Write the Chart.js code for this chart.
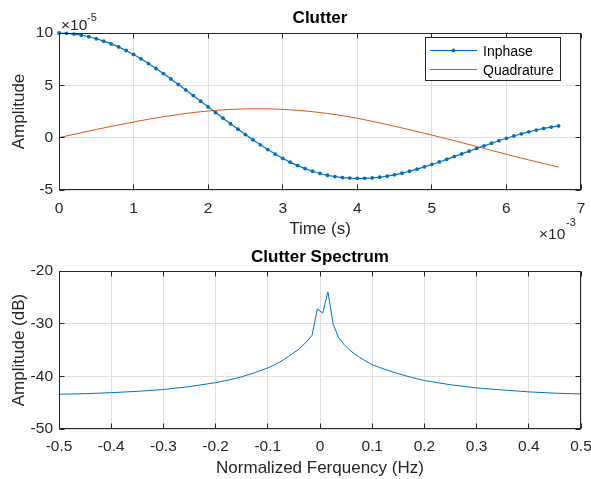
<!DOCTYPE html>
<html>
<head>
<meta charset="utf-8">
<script src="https://cdn.jsdelivr.net/npm/chart.js@4.4.0/dist/chart.umd.min.js"></script>
<style>
  body { margin: 0; background: #fff; }
  #wrap { position: relative; width: 591px; height: 479px; }
  canvas { position: absolute; left: 0; }
</style>
</head>
<body>
<div id="wrap">
  <canvas id="clutter" width="591" height="240" style="top:0"></canvas>
  <canvas id="spectrum" width="591" height="239" style="top:240px"></canvas>
</div>
<script>
// time axis in ms (axis shows x10^-3 s)
const time = [0, 0.1, 0.2, 0.3, 0.4, 0.5, 0.6, 0.7, 0.8, 0.9,
    1.0, 1.1, 1.2, 1.3, 1.4, 1.5, 1.6, 1.7, 1.8, 1.9,
    2.0, 2.1, 2.2, 2.3, 2.4, 2.5, 2.6, 2.7, 2.8, 2.9,
    3.0, 3.1, 3.2, 3.3, 3.4, 3.5, 3.6, 3.7, 3.8, 3.9,
    4.0, 4.1, 4.2, 4.3, 4.4, 4.5, 4.6, 4.7, 4.8, 4.9,
    5.0, 5.1, 5.2, 5.3, 5.4, 5.5, 5.6, 5.7, 5.8, 5.9,
    6.0, 6.1, 6.2, 6.3, 6.4, 6.5, 6.6, 6.7];

// amplitudes in units of 1e-5
const inphase = [10.00, 9.97, 9.90, 9.79, 9.64, 9.45, 9.22, 8.96, 8.67, 8.33,
    7.95, 7.53, 7.08, 6.61, 6.12, 5.61, 5.09, 4.56, 4.02, 3.48,
    2.94, 2.40, 1.86, 1.33, 0.81, 0.30, -0.20, -0.68, -1.14, -1.57,
    -1.97, -2.34, -2.67, -2.96, -3.21, -3.42, -3.59, -3.72, -3.81, -3.86,
    -3.88, -3.88, -3.85, -3.78, -3.68, -3.55, -3.39, -3.21, -3.01, -2.79,
    -2.56, -2.32, -2.07, -1.81, -1.55, -1.29, -1.03, -0.78, -0.53, -0.29,
    -0.06, 0.16, 0.37, 0.56, 0.73, 0.88, 1.01, 1.12];

const quadrature = [0.00, 0.16, 0.32, 0.48, 0.63, 0.78, 0.93, 1.08, 1.22, 1.36,
    1.50, 1.63, 1.76, 1.88, 2.00, 2.11, 2.21, 2.31, 2.40, 2.48,
    2.55, 2.61, 2.66, 2.70, 2.73, 2.75, 2.76, 2.76, 2.75, 2.73,
    2.70, 2.66, 2.61, 2.55, 2.48, 2.40, 2.31, 2.21, 2.10, 1.98,
    1.85, 1.71, 1.56, 1.41, 1.25, 1.09, 0.93, 0.76, 0.59, 0.42,
    0.25, 0.07, -0.11, -0.29, -0.47, -0.66, -0.84, -1.03, -1.22, -1.40,
    -1.59, -1.77, -1.95, -2.13, -2.30, -2.47, -2.64, -2.80];

// spectrum: normalized frequency and amplitude (dB)
const freq = [-0.5, -0.45, -0.4, -0.35, -0.3, -0.25, -0.2, -0.175, -0.15, -0.125,
    -0.1, -0.09, -0.08, -0.07, -0.06, -0.05, -0.04, -0.0253, -0.0152, -0.0051,
    0.0051, 0.0152, 0.0253, 0.0354, 0.0455, 0.0556, 0.0657, 0.0758, 0.0859, 0.1,
    0.125, 0.15, 0.175, 0.2, 0.25, 0.3, 0.35, 0.4, 0.45, 0.5];
const spectrumDb = [-43.4, -43.3, -43.1, -42.85, -42.5, -41.95, -41.2, -40.7, -40.1, -39.3,
    -38.4, -37.95, -37.45, -36.85, -36.2, -35.5, -34.8, -33.4, -32.2, -27.2,
    -28.0, -24.0, -30.1, -32.6, -33.9, -34.9, -35.7, -36.4, -37.0, -37.8,
    -38.7, -39.5, -40.2, -40.8, -41.6, -42.2, -42.6, -42.95, -43.2, -43.35];

const xTicksTop = { min: 0, max: 7, step: 1 };
const yTicksTop = { min: -5, max: 10, step: 5 };
const xTicksBottom = { min: -0.5, max: 0.5, step: 0.1 };
const yTicksBottom = { min: -50, max: -20, step: 10 };

const FONT = "'Liberation Sans', Arial, Helvetica, sans-serif";
const AXIS = '#262626';
const GRID = '#dfdfdf';
const BLUE = '#0072bd';
const ORANGE = '#d95319';

Chart.defaults.font.family = FONT;
Chart.defaults.color = AXIS;

function fixSize(size) {
    return function (scale) {
        if (scale.isHorizontal()) scale.height = size;
        else scale.width = size;
        scale.paddingLeft = 0;
        scale.paddingRight = 0;
        scale.paddingTop = 0;
        scale.paddingBottom = 0;
    };
}

function fmt(v) {
    if (Math.abs(v) < 1e-9) return '0';
    return String(Math.round(v * 10) / 10);
}

function align(p) {
    return Math.round(p - 0.5) + 0.5;
}

// MATLAB style box with inward tick marks
const axesBox = {
    id: 'axesBox',
    afterDraw(chart) {
        const { ctx, chartArea: a, scales: { x, y } } = chart;
        const L = align(a.left + 0.5), R = align(a.right - 0.5);
        const T = align(a.top + 0.5), B = align(a.bottom - 0.5);
        ctx.save();
        ctx.strokeStyle = AXIS;
        ctx.lineWidth = 1;
        ctx.beginPath();
        x.ticks.forEach(t => {
            const p = align(x.getPixelForValue(t.value));
            ctx.moveTo(p, B); ctx.lineTo(p, B - 5);
            ctx.moveTo(p, T); ctx.lineTo(p, T + 5);
        });
        y.ticks.forEach(t => {
            const p = align(y.getPixelForValue(t.value));
            ctx.moveTo(L, p); ctx.lineTo(L + 5, p);
            ctx.moveTo(R, p); ctx.lineTo(R - 5, p);
        });
        ctx.stroke();
        ctx.strokeRect(L, T, R - L, B - T);
        ctx.restore();
    }
};

const clutterExtras = {
    id: 'clutterExtras',
    afterDraw(chart) {
        const ctx = chart.ctx;
        ctx.save();
        ctx.fillStyle = AXIS;
        ctx.textBaseline = 'alphabetic';
        ctx.textAlign = 'left';
        ctx.font = '15.5px ' + FONT;
        ctx.fillText('×10', 61, 30);
        ctx.fillText('×10', 539, 239);
        ctx.font = '11px ' + FONT;
        ctx.fillText('-5', 87, 21);
        ctx.fillText('-3', 566, 226);

        // legend
        ctx.fillStyle = '#fff';
        ctx.fillRect(425.5, 37.5, 135, 43);
        ctx.strokeStyle = AXIS;
        ctx.lineWidth = 1;
        ctx.strokeRect(425.5, 37.5, 135, 43);
        ctx.beginPath();
        ctx.strokeStyle = BLUE;
        ctx.moveTo(430, 50.5); ctx.lineTo(477, 50.5);
        ctx.stroke();
        ctx.fillStyle = BLUE;
        ctx.beginPath();
        ctx.arc(453.5, 50.5, 1.9, 0, Math.PI * 2);
        ctx.fill();
        ctx.beginPath();
        ctx.strokeStyle = ORANGE;
        ctx.moveTo(430, 69.5); ctx.lineTo(477, 69.5);
        ctx.stroke();
        ctx.fillStyle = '#000';
        ctx.font = '14px ' + FONT;
        ctx.fillText('Inphase', 483, 55.5);
        ctx.fillText('Quadrature', 483, 74.5);
        ctx.restore();
    }
};

function baseScales(xr, yr, xTitle, yTitle, xPad, xTitlePad) {
    return {
        x: {
            type: 'linear', min: xr.min, max: xr.max,
            afterFit: fixSize(50),
            border: { display: false },
            grid: { color: GRID, drawTicks: false },
            ticks: { stepSize: xr.step, padding: xPad, maxRotation: 0, autoSkip: false,
                font: { size: 15.5 }, callback: fmt },
            title: { display: true, text: xTitle, font: { size: 17 },
                padding: { top: 0, bottom: xTitlePad } }
        },
        y: {
            type: 'linear', min: yr.min, max: yr.max,
            afterFit: fixSize(59),
            border: { display: false },
            grid: { color: GRID, drawTicks: false },
            ticks: { stepSize: yr.step, padding: 6, autoSkip: false,
                font: { size: 15.5 }, callback: fmt },
            title: { display: true, text: yTitle, font: { size: 17 },
                padding: { top: 9, bottom: 0 } }
        }
    };
}

new Chart(document.getElementById('clutter'), {
    type: 'line',
    data: {
        datasets: [{
            label: 'Inphase',
            data: time.map((t, i) => ({ x: t, y: inphase[i] })),
            borderColor: BLUE,
            backgroundColor: BLUE,
            borderWidth: 1.2,
            pointRadius: 1.9,
            pointBorderWidth: 0,
            pointBackgroundColor: BLUE,
            clip: false
        }, {
            label: 'Quadrature',
            data: time.map((t, i) => ({ x: t, y: quadrature[i] })),
            borderColor: ORANGE,
            borderWidth: 1,
            pointRadius: 0,
            clip: false
        }]
    },
    options: {
        responsive: false,
        animation: false,
        events: [],
        layout: { padding: { left: 0, right: 10, top: 0, bottom: 0 } },
        plugins: {
            legend: { display: false },
            tooltip: { enabled: false },
            title: {
                display: true, text: 'Clutter', color: '#000', fullSize: false,
                font: { size: 17, weight: 'bold' },
                padding: { top: 7.9, bottom: 4.7 }
            }
        },
        scales: baseScales(xTicksTop, yTicksTop, 'Time (s)', 'Amplitude', 9, 0)
    },
    plugins: [axesBox, clutterExtras]
});

new Chart(document.getElementById('spectrum'), {
    type: 'line',
    data: {
        datasets: [{
            label: 'Spectrum',
            data: freq.map((f, i) => ({ x: f, y: spectrumDb[i] })),
            borderColor: BLUE,
            borderWidth: 1,
            pointRadius: 0,
            clip: false
        }]
    },
    options: {
        responsive: false,
        animation: false,
        events: [],
        layout: { padding: { left: 0, right: 10, top: 0, bottom: 0 } },
        plugins: {
            legend: { display: false },
            tooltip: { enabled: false },
            title: {
                display: true, text: 'Clutter Spectrum', color: '#000', fullSize: false,
                font: { size: 17, weight: 'bold' },
                padding: { top: 7.2, bottom: 3.4 }
            }
        },
        scales: baseScales(xTicksBottom, yTicksBottom, 'Normalized Ferquency (Hz)', 'Amplitude (dB)', 8.5, 0)
    },
    plugins: [axesBox]
});
</script>
</body>
</html>
